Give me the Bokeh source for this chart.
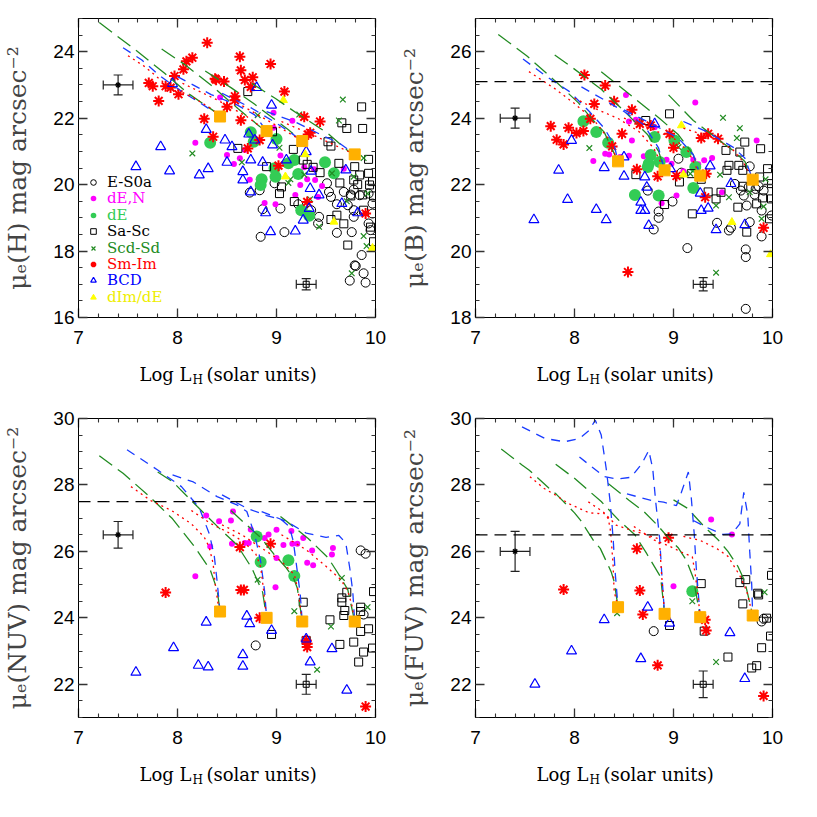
from bokeh.plotting import figure
from bokeh.layouts import gridplot
from bokeh.models import (Range1d, LinearAxis, SingleIntervalTicker, ColumnDataSource,
                          Whisker, Span, Label, Legend, LegendItem, CustomJSTickFormatter, TeeHead)
from bokeh.embed import file_html
from bokeh.resources import INLINE

# ---------------- data ----------------
# ---- panel H ----
H_ES0a = [(8.73,19.76),(8.83,19.83),(8.86,19.26),(8.84,18.43),(9.04,19.28),(8.98,20.04),(9.08,18.57),(9.22,19.41),(9.35,19.23),(9.43,19.03),(9.42,18.83),(9.51,20.04),(9.53,19.78),(9.55,19.63),(9.61,19.41),(9.61,18.55),(9.68,19.78),(9.72,19.38),(9.75,19.70),(9.76,18.57),(9.78,19.23),(9.78,19.03),(9.80,17.55),(9.79,17.57),(9.74,17.11),(9.86,17.88),(9.88,17.33),(9.90,17.05),(9.93,18.83),(9.95,18.63),(9.97,19.43),(9.93,19.73),(9.97,19.13),(9.84,19.68),(9.78,19.85)]
H_dEN = [(8.18,21.26),(8.43,22.62),(8.50,20.89),(8.57,20.62),(8.63,20.79),(8.68,21.04),(8.73,20.15),(8.88,19.45),(8.97,22.16),(8.97,21.71),(8.99,19.41),(9.04,20.88),(9.08,20.64),(9.16,21.92),(9.19,19.69),(9.24,19.99),(9.28,20.52),(9.31,20.16),(9.39,20.14),(9.38,20.46),(9.42,19.63),(9.46,19.96),(9.68,20.48)]
H_dE = [(8.33,21.26),(8.74,21.58),(8.77,21.29),(9.00,21.37),(8.85,20.16),(8.84,19.99),(8.98,20.49),(8.99,20.24),(9.12,20.64),(9.18,20.74),(9.22,20.32),(9.49,20.67),(9.58,20.34),(9.25,19.23),(9.33,19.06)]
H_SaSc = [(8.71,22.80),(8.61,21.09),(8.90,20.54),(8.96,21.59),(9.05,19.93),(9.03,19.73),(9.17,21.06),(9.18,19.49),(9.27,20.74),(9.31,20.61),(9.44,20.36),(9.52,21.29),(9.55,21.16),(9.61,19.08),(9.63,20.64),(9.64,20.05),(9.66,21.86),(9.71,21.69),(9.72,18.18),(9.68,18.82),(9.79,20.54),(9.82,20.00),(9.84,20.29),(9.86,22.34),(9.87,21.69),(9.87,19.69),(9.88,19.23),(9.93,20.76),(9.93,20.34),(9.94,19.99),(9.97,20.09),(9.98,19.66),(9.95,18.72),(9.98,18.28),(9.75,19.66),(9.78,20.14),(9.55,18.95),(9.37,20.52)]
H_ScdSd = [(8.15,20.94),(8.65,20.67),(8.81,22.09),(9.03,21.11),(9.14,20.16),(9.12,20.05),(9.23,22.11),(9.28,20.30),(9.34,19.56),(9.43,18.73),(9.56,20.34),(9.63,21.93),(9.67,22.56),(9.78,20.24),(9.88,20.80),(9.92,19.73),(9.88,18.45),(9.91,18.15),(9.76,17.33),(9.71,19.50)]
H_SmIm = [(8.30,24.27),(7.71,23.06),(7.75,22.96),(7.81,22.52),(7.88,22.96),(7.93,22.92),(7.97,23.27),(8.01,22.72),(8.06,23.47),(8.09,23.71),(8.15,23.82),(8.38,23.19),(8.39,23.16),(8.47,23.10),(8.50,22.34),(8.58,22.66),(8.58,22.54),(8.63,23.85),(8.64,23.44),(8.68,23.15),(8.74,22.94),(8.76,23.23),(8.64,21.94),(8.71,21.09),(8.27,21.98),(8.36,21.44),(8.83,21.34),(8.94,23.63),(9.08,22.80),(9.28,22.04),(9.32,21.51),(9.34,21.56),(9.44,21.90),(9.02,20.57),(9.31,19.48),(9.90,19.13)]
H_BCD = [(7.58,20.54),(7.83,21.14),(7.92,20.41),(7.95,23.04),(8.22,20.29),(8.29,21.66),(8.31,20.48),(8.48,21.34),(8.50,20.67),(8.55,21.14),(8.66,20.39),(8.66,20.14),(8.72,21.52),(8.74,20.74),(8.74,19.78),(8.78,21.34),(8.80,22.92),(8.86,20.67),(8.89,19.15),(8.94,18.58),(8.95,22.39),(8.96,21.19),(9.10,20.74),(9.19,18.60),(9.27,18.93),(9.30,20.99),(9.33,19.28),(9.35,20.40),(9.34,19.88),(9.43,19.69),(9.66,19.43),(9.70,20.44),(9.82,19.15)]
H_dIm = [(9.07,22.54),(9.09,20.24),(9.29,20.91),(9.58,18.88),(9.97,18.09)]
H_end = [(8.43,22.05),(8.90,21.61),(9.26,21.31),(9.79,20.91)]
H_green = [
    [(7.21,24.88),(7.59,24.02),(7.87,23.35),(8.11,22.74),(8.38,22.19),(8.43,22.05)],
    [(7.84,24.08),(8.07,23.62),(8.34,22.99),(8.61,22.29),(8.83,21.75),(8.90,21.61)],
    [(8.28,23.42),(8.54,22.92),(8.77,22.44),(8.97,21.99),(9.12,21.65),(9.26,21.31)],
    [(8.75,23.05),(8.99,22.59),(9.21,22.14),(9.52,21.54),(9.72,21.02),(9.79,20.91)],
]
H_blue = [
    [(7.45,24.12),(7.64,23.75),(7.81,23.30),(8.04,22.81),(8.29,22.34),(8.43,22.05)],
    [(8.00,23.25),(8.34,22.71),(8.60,22.40),(8.78,22.10),(8.90,21.61)],
    [(8.45,22.75),(8.75,22.30),(9.00,21.85),(9.15,21.55),(9.26,21.31)],
    [(8.90,22.20),(9.20,21.87),(9.47,21.47),(9.64,21.24),(9.79,20.91)],
]
H_red = [
    [(7.50,23.88),(7.67,23.55),(7.85,23.10),(8.00,22.85),(8.17,22.60),(8.34,22.29),(8.43,22.05)],
    [(8.05,23.05),(8.40,22.55),(8.70,22.05),(8.90,21.61)],
    [(8.55,22.55),(8.90,21.95),(9.10,21.60),(9.26,21.31)],
    [(9.05,21.90),(9.40,21.45),(9.65,21.10),(9.79,20.91)],
]
H_err = [(7.4,23.0,0.15,0.3),(9.3,17.0,0.1,0.17)]

# ---- panel B ----
B_ES0a = [(9.05,22.78),(9.08,22.36),(8.74,21.82),(8.85,21.19),(8.85,21.00),(8.80,20.65),(8.99,21.49),(9.14,20.09),(9.44,20.85),(9.56,20.62),(9.58,20.70),(9.62,22.02),(9.68,21.82),(9.71,21.67),(9.74,21.37),(9.77,22.55),(9.76,21.93),(9.86,21.95),(9.82,21.70),(9.83,21.87),(9.89,21.22),(9.91,21.82),(9.89,20.44),(9.73,20.05),(9.73,19.82),(9.99,21.07),(9.73,18.26),(9.77,20.87)]
B_dEN = [(9.22,24.47),(8.52,24.70),(8.55,23.90),(8.58,23.33),(8.31,22.93),(8.35,22.91),(8.19,22.71),(8.46,22.83),(8.55,22.87),(8.70,22.85),(8.81,23.73),(8.88,21.44),(8.93,22.75),(8.98,22.63),(9.03,21.67),(9.20,22.75),(9.25,22.61),(9.31,22.73),(9.39,22.80),(9.49,21.77),(9.84,23.33),(8.62,23.95),(9.10,22.40)]
B_dE = [(8.09,23.91),(8.22,23.58),(8.34,23.26),(8.77,22.89),(8.75,22.63),(8.74,22.53),(8.81,23.43),(8.86,22.68),(8.61,21.69),(8.85,21.67),(9.01,23.33),(9.13,22.98),(9.20,21.90),(9.22,22.53)]
B_SaSc = [(8.96,24.13),(8.72,23.93),(8.62,22.30),(9.18,22.33),(9.06,22.08),(8.91,21.40),(9.19,21.12),(9.28,22.16),(9.35,21.78),(9.43,21.57),(9.48,21.77),(9.54,22.43),(9.53,23.03),(9.67,22.98),(9.72,23.28),(9.88,23.08),(9.56,22.58),(9.66,22.58),(9.70,22.43),(9.65,21.32),(9.74,20.57),(9.84,21.42),(9.95,22.48),(9.99,22.03),(9.99,21.57),(9.97,20.97),(9.87,22.23),(9.90,21.60),(9.70,21.95)]
B_ScdSd = [(8.15,23.10),(9.50,24.01),(9.67,23.70),(9.64,23.40),(9.47,22.30),(9.56,21.62),(9.43,21.37),(9.43,19.35),(9.89,20.97),(9.91,21.34),(9.93,22.16),(9.77,21.77),(9.05,23.13),(9.17,22.33)]
B_SmIm = [(8.10,25.30),(8.31,24.98),(8.20,24.43),(8.40,24.51),(8.58,24.25),(7.76,23.76),(7.94,23.71),(8.02,23.55),(8.09,23.61),(7.82,23.35),(7.89,23.21),(8.16,23.98),(8.38,23.15),(8.48,23.53),(8.63,22.46),(8.84,22.25),(8.96,23.53),(9.00,23.11),(9.03,22.26),(9.28,23.40),(9.35,23.53),(9.45,23.38),(9.33,22.33),(9.32,21.62),(8.54,19.37),(9.91,20.70),(8.66,23.83),(8.77,23.78)]
B_BCD = [(7.97,23.33),(7.84,22.43),(7.93,21.55),(7.59,20.94),(8.22,21.25),(8.32,20.94),(8.30,22.51),(8.50,22.25),(8.71,22.23),(8.73,21.92),(8.67,21.47),(8.67,21.22),(8.71,21.22),(8.75,20.77),(8.81,23.83),(8.97,22.48),(9.27,21.74),(9.28,21.22),(9.35,21.29),(9.37,22.56),(9.58,22.03),(9.43,20.64),(9.72,20.79),(8.50,22.83)]
B_dIm = [(9.08,23.78),(9.10,22.30),(9.59,20.87),(9.98,19.90)]
B_end = [(8.44,22.70),(8.91,22.43),(9.27,22.27),(9.80,22.15)]
B_green = [
    [(7.23,26.52),(7.52,25.87),(7.79,25.16),(8.04,24.46),(8.16,24.03),(8.30,23.58),(8.41,22.88),(8.44,22.70)],
    [(7.80,25.90),(7.98,25.52),(8.27,24.87),(8.52,24.16),(8.74,23.50),(8.85,23.00),(8.91,22.43)],
    [(8.27,25.40),(8.61,24.59),(8.86,23.99),(9.05,23.50),(9.20,22.90),(9.27,22.27)],
    [(8.95,24.70),(9.20,23.93),(9.42,23.43),(9.60,23.03),(9.72,22.70),(9.80,22.15)],
]
B_blue = [
    [(7.48,25.78),(7.72,25.25),(7.95,24.80),(8.15,24.20),(8.30,23.70),(8.40,23.20),(8.44,22.70)],
    [(8.07,24.94),(8.30,24.55),(8.50,24.20),(8.70,23.80),(8.85,23.10),(8.91,22.43)],
    [(8.50,24.25),(8.80,23.80),(9.05,23.40),(9.20,22.90),(9.27,22.27)],
    [(9.10,23.90),(9.33,23.60),(9.60,23.13),(9.72,22.80),(9.80,22.15)],
]
B_red = [
    [(7.54,25.40),(7.80,24.89),(8.00,24.44),(8.20,23.93),(8.33,23.43),(8.44,22.70)],
    [(8.00,24.60),(8.20,24.30),(8.44,23.99),(8.65,23.60),(8.80,23.10),(8.91,22.43)],
    [(8.50,24.00),(8.75,23.70),(9.00,23.40),(9.15,23.00),(9.27,22.27)],
    [(9.10,23.70),(9.40,23.40),(9.60,23.05),(9.70,22.70),(9.80,22.15)],
]
B_err = [(7.4,24.0,0.15,0.3),(9.3,19.0,0.1,0.2)]
B_limit = 25.1

# ---- panel NUV ----
N_ES0a = [(9.85,26.03),(9.90,25.93),(8.79,23.17),(9.88,24.10)]
N_dEN = [(8.18,25.25),(8.29,27.08),(8.33,26.15),(8.42,26.91),(8.54,26.93),(8.56,27.20),(8.55,26.23),(8.68,26.25),(8.72,26.25),(8.74,26.66),(8.88,26.40),(8.92,26.51),(9.00,26.65),(8.99,24.92),(9.07,26.19),(9.15,26.61),(9.16,26.23),(9.21,26.23),(9.27,26.40),(9.31,25.66),(9.36,26.03),(9.37,25.58),(9.56,25.91),(9.57,26.10),(9.00,25.80)]
N_dE = [(8.80,26.45),(8.84,25.68),(9.12,25.73),(9.18,25.26)]
N_SaSc = [(9.71,24.77),(9.66,24.60),(9.66,24.47),(9.69,24.22),(9.68,24.07),(9.85,24.32),(9.85,24.19),(9.98,24.79),(9.93,23.67),(9.85,23.59),(9.78,23.27),(9.64,23.20),(9.88,22.97),(9.83,22.67),(9.97,23.09),(9.54,23.94),(9.27,24.47),(8.95,23.50),(9.30,23.32)]
N_ScdSd = [(8.81,25.15),(9.18,24.20),(9.55,23.74),(9.41,22.44),(9.66,25.20),(9.92,24.32)]
N_SmIm = [(7.88,24.76),(8.64,24.84),(8.67,24.84),(8.63,26.13),(8.94,26.23),(8.83,24.00),(9.31,23.22),(9.31,23.12),(9.30,23.32),(9.90,21.33)]
N_BCD = [(7.58,22.36),(7.96,23.10),(8.21,22.57),(8.31,22.52),(8.29,23.87),(8.66,22.89),(8.66,22.54),(8.70,24.05),(8.73,23.82),(8.95,23.62),(9.30,23.36),(9.34,22.67),(9.56,23.07),(9.71,21.82)]
N_dIm = []
N_end = [(8.43,24.19),(8.90,24.00),(9.26,23.89),(9.79,23.89)]
N_green = [
    [(7.21,28.88),(7.45,28.35),(7.70,27.70),(7.95,26.98),(8.17,26.15),(8.33,25.45),(8.40,24.85),(8.43,24.19)],
    [(7.80,28.39),(7.95,28.10),(8.20,27.35),(8.41,26.73),(8.60,26.20),(8.75,25.50),(8.86,24.77),(8.90,24.00)],
    [(8.54,27.23),(8.67,26.87),(8.84,26.42),(8.97,25.93),(9.10,25.50),(9.17,25.21),(9.21,24.90),(9.26,23.89)],
    [(9.04,27.05),(9.22,26.63),(9.32,26.39),(9.52,25.81),(9.62,25.35),(9.72,24.85),(9.79,23.89)],
]
N_blue = [
    [(7.49,29.06),(7.80,28.45),(8.04,27.95),(8.22,27.31),(8.32,26.54),(8.37,25.90),(8.40,25.10),(8.43,24.19)],
    [(7.95,28.30),(8.16,28.09),(8.40,27.65),(8.60,27.40),(8.70,27.20),(8.78,26.50),(8.84,25.70),(8.88,24.80),(8.90,24.00)],
    [(8.45,27.70),(8.70,27.30),(8.90,27.08),(9.05,26.95),(9.13,26.75),(9.17,26.30),(9.21,25.40),(9.24,24.70),(9.26,23.89)],
    [(8.85,27.20),(9.10,26.90),(9.30,26.55),(9.50,26.42),(9.63,26.48),(9.70,26.25),(9.74,25.50),(9.77,24.80),(9.79,23.89)],
]
N_red = [
    [(7.53,27.95),(7.73,27.53),(7.94,27.23),(8.14,26.83),(8.27,26.43),(8.32,26.13),(8.36,25.63),(8.38,25.03),(8.41,24.42),(8.43,24.19)],
    [(8.14,27.23),(8.34,26.83),(8.54,26.53),(8.67,26.28),(8.79,25.93),(8.84,25.53),(8.87,24.82),(8.90,24.00)],
    [(8.45,26.80),(8.65,26.50),(8.85,26.10),(9.05,25.70),(9.18,25.30),(9.22,24.80),(9.26,23.89)],
    [(9.05,26.50),(9.30,26.05),(9.50,25.55),(9.65,25.15),(9.72,24.80),(9.76,24.40),(9.79,23.89)],
]
N_err = [(7.4,26.5,0.15,0.4),(9.3,22.0,0.1,0.3)]
N_limit = 27.5

# ---- panel FUV ----
F_ES0a = [(8.80,23.60),(9.89,23.89),(9.91,23.97)]
F_dEN = [(9.38,26.96),(9.59,26.51),(9.00,24.95)]
F_dE = [(9.19,24.80)]
F_SaSc = [(9.28,25.03),(9.67,25.06),(9.73,25.15),(9.70,24.42),(9.86,24.69),(9.85,24.74),(9.99,25.28),(9.94,23.99),(9.98,23.45),(9.89,23.10),(9.84,22.56),(9.79,22.49),(9.55,22.82),(9.31,23.60),(8.96,23.77)]
F_ScdSd = [(8.43,24.14),(9.19,24.50),(9.43,22.67),(9.92,24.77)]
F_SmIm = [(7.89,24.85),(8.63,26.08),(8.66,24.82),(8.69,24.10),(8.84,22.57),(8.95,26.41),(9.32,23.94),(9.33,23.62),(9.91,21.65)]
F_BCD = [(7.60,22.00),(7.97,23.00),(8.30,23.94),(8.74,24.32),(8.96,23.84),(8.67,22.77),(9.57,23.55),(9.72,22.17)]
F_dIm = []
F_end = [(8.44,24.32),(8.91,24.12),(9.27,24.02),(9.80,24.07)]
F_green = [
    [(7.26,29.08),(7.47,28.60),(7.54,28.45),(7.74,27.91),(7.82,27.71),(8.00,27.16),(8.06,26.94),(8.20,26.29),(8.26,26.09),(8.37,25.39),(8.40,25.10),(8.44,24.32)],
    [(7.81,28.62),(8.00,28.20),(8.27,27.50),(8.46,26.90),(8.61,26.50),(8.73,25.93),(8.87,25.23),(8.91,24.12)],
    [(8.34,28.04),(8.55,27.54),(8.70,27.20),(8.85,26.75),(8.95,26.40),(9.05,26.10),(9.13,25.73),(9.20,25.20),(9.27,24.02)],
    [(9.00,27.55),(9.14,27.30),(9.30,26.78),(9.45,26.35),(9.55,26.00),(9.65,25.55),(9.72,25.10),(9.80,24.07)],
]
F_blue = [
    [(7.47,29.75),(7.70,29.40),(7.90,29.30),(8.05,29.40),(8.15,29.65),(8.21,29.95),(8.27,29.50),(8.32,28.50),(8.36,27.50),(8.39,26.40),(8.41,25.40),(8.44,24.32)],
    [(8.05,28.84),(8.30,28.25),(8.43,28.18),(8.57,28.23),(8.68,28.64),(8.75,29.04),(8.79,28.50),(8.82,27.50),(8.86,26.40),(8.88,25.40),(8.91,24.12)],
    [(8.53,27.73),(8.78,27.53),(8.90,27.48),(9.03,27.38),(9.08,27.78),(9.15,28.39),(9.18,27.60),(9.21,26.50),(9.23,25.50),(9.27,24.02)],
    [(9.20,26.93),(9.33,26.73),(9.50,26.51),(9.59,26.53),(9.67,26.83),(9.71,27.78),(9.75,27.10),(9.77,26.00),(9.79,25.00),(9.80,24.07)],
]
F_red = [
    [(7.55,28.25),(7.69,27.90),(7.80,27.71),(7.94,27.44),(8.05,27.29),(8.15,27.16),(8.24,27.14),(8.29,27.17),(8.34,26.99),(8.36,26.69),(8.37,26.39),(8.39,25.59),(8.40,24.80),(8.44,24.32)],
    [(8.14,27.49),(8.29,27.19),(8.42,26.79),(8.57,26.64),(8.73,26.50),(8.84,26.39),(8.86,26.20),(8.88,25.30),(8.91,24.12)],
    [(8.60,26.75),(8.80,26.35),(8.95,26.17),(9.10,25.95),(9.19,25.84),(9.22,25.30),(9.25,24.60),(9.27,24.02)],
    [(9.10,26.45),(9.27,26.33),(9.44,26.08),(9.55,25.85),(9.67,25.27),(9.74,24.80),(9.80,24.07)],
]
F_err = [(7.4,26.0,0.15,0.6),(9.3,22.0,0.1,0.4)]
F_limit = 26.5

CATEGORIES = ["E-S0a", "dE,N", "dE", "Sa-Sc", "Scd-Sd", "Sm-Im", "BCD", "dIm/dE"]
XLABEL = ("Log L", "H", "(solar units)")

# ---------------- styling ----------------
GREEN_LT = "#33cc55"
GREEN_DK = "#228b22"
MAGENTA = "#ff00ff"
RED = "#ff0000"
BLUE = "#0000ff"
YELLOW = "#ffff00"
ORANGE = "#ffb000"

STYLES = [
    dict(marker="circle", size=9, fill_color=None, line_color="black", line_width=1),
    dict(marker="circle", size=6, fill_color=MAGENTA, line_color=None),
    dict(marker="circle", size=12, fill_color=GREEN_LT, line_color=None),
    dict(marker="square", size=8, fill_color=None, line_color="black", line_width=1),
    dict(marker="x", size=8, line_color=GREEN_DK, line_width=1.2),
    dict(marker="asterisk", size=11, line_color=RED, line_width=2),
    dict(marker="triangle", size=10, fill_color=None, line_color=BLUE, line_width=1.2),
    dict(marker="triangle", size=8, fill_color=YELLOW, line_color=YELLOW),
]
TEXT_COLORS = ["black", MAGENTA, GREEN_LT, "black", GREEN_DK, RED, BLUE, "#eeee00"]

W = 397
B_LEFT, B_RIGHT, B_BOTTOM = 77, 22, 40
FRAME_H = 299
H_LAB = 51
SERIF = "DejaVu Serif"
SANS = "Liberation Sans"


def unzip(pts):
    return [q[0] for q in pts], [q[1] for q in pts]


def style_axis(ax, interval, nminor, show_labels, standoff=0):
    ax.ticker = SingleIntervalTicker(interval=interval, num_minor_ticks=nminor)
    ax.major_tick_in = 9
    ax.major_tick_out = 0
    ax.minor_tick_in = 4
    ax.minor_tick_out = 0
    ax.axis_line_color = "black"
    ax.major_tick_line_color = "#333333"
    ax.minor_tick_line_color = "#333333"
    ax.major_tick_line_width = 1.3
    ax.minor_tick_line_width = 1.1
    if show_labels:
        ax.major_label_text_font = SANS
        ax.major_label_text_font_size = "19px"
        ax.major_label_text_color = "black"
        ax.major_label_standoff = standoff
    else:
        ax.formatter = CustomJSTickFormatter(code="return ''")
        ax.major_label_standoff = 0


def make_xlabel_fig():
    f = figure(width=W, height=H_LAB, x_range=Range1d(0, 1), y_range=Range1d(0, 1),
               x_axis_type=None, y_axis_type=None, output_backend="svg", toolbar_location=None,
               min_border=0, min_border_left=0, min_border_right=0, min_border_top=0, min_border_bottom=0)
    f.outline_line_color = None
    f.grid.visible = False
    # screen positions are relative to the (column-aligned) frame
    parts = [(XLABEL[0], 113, 34, "18px", "right"), (XLABEL[1], 114, 29, "12px", "left"),
             (XLABEL[2], 128, 34, "18px", "left")]
    for text, sx, sy, fs, align in parts:
        f.add_layout(Label(x=sx, y=sy, x_units="screen", y_units="screen", text=text,
                           text_font=SERIF, text_font_size=fs, text_align=align,
                           text_baseline="alphabetic", text_color="black"))
    return f


def make_panel(band, yr, cats, ends, greens, blues, reds, errs, limit, legend, top_border):
    p = figure(width=W, height=top_border + FRAME_H + B_BOTTOM, x_range=Range1d(7, 10), y_range=Range1d(*yr),
               output_backend="svg", toolbar_location=None,
               min_border_left=B_LEFT, min_border_right=B_RIGHT, min_border_top=top_border,
               min_border_bottom=B_BOTTOM)
    p.grid.visible = False
    p.outline_line_color = "black"
    p.outline_line_width = 1
    p.background_fill_color = "white"

    style_axis(p.below[0], 1, 5, True, 13)
    style_axis(p.left[0], 2, 4, True, 4)
    top = LinearAxis()
    right = LinearAxis()
    style_axis(top, 1, 5, False)
    style_axis(right, 2, 4, False)
    p.add_layout(top, "above")
    p.add_layout(right, "right")

    yax = p.left[0]
    yax.axis_label = "\u03bc\u2091(" + band + ") mag arcsec\u207b\u00b2"
    yax.axis_label_text_font = SERIF
    yax.axis_label_text_font_style = "normal"
    yax.axis_label_text_font_size = "25px"
    yax.axis_label_standoff = 18

    if limit is not None:
        p.add_layout(Span(location=limit, dimension="width", line_color="black",
                          line_width=1.2, line_dash="12 7"))

    renderers = []
    for pts, st in zip(cats, STYLES):
        xs, ys = unzip(pts)
        r = p.scatter(xs, ys, **st)
        renderers.append(r)

    for tracks, color, dash in ((greens, GREEN_DK, "16 7"), (blues, "#1a3cff", "9 7"), (reds, RED, "2 4")):
        xs = [unzip(t)[0] for t in tracks]
        ys = [unzip(t)[1] for t in tracks]
        p.multi_line(xs, ys, line_color=color, line_width=1.3, line_dash=dash)

    ex, ey = unzip(ends)
    p.scatter(ex, ey, marker="square", size=11, fill_color=ORANGE, line_color=ORANGE)

    cx = [e[0] for e in errs]
    cy = [e[1] for e in errs]
    dx = [e[2] for e in errs]
    dy = [e[3] for e in errs]
    src = ColumnDataSource(dict(x=cx, y=cy,
                                xl=[a - b for a, b in zip(cx, dx)], xu=[a + b for a, b in zip(cx, dx)],
                                yl=[a - b for a, b in zip(cy, dy)], yu=[a + b for a, b in zip(cy, dy)]))
    for dim, base, lo, hi in (("width", "y", "xl", "xu"), ("height", "x", "yl", "yu")):
        p.add_layout(Whisker(source=src, base=base, lower=lo, upper=hi, dimension=dim,
                             line_color="#222222", line_width=1.2,
                             upper_head=TeeHead(size=9, line_color="#222222", line_width=1.2),
                             lower_head=TeeHead(size=9, line_color="#222222", line_width=1.2)))
    p.scatter(cx[:1], cy[:1], marker="asterisk", size=6, line_color="black", line_width=1.2)
    p.scatter(cx[1:], cy[1:], marker="square", size=6, fill_color=None, line_color="black", line_width=1)

    if legend:
        for i, (name, r) in enumerate(zip(CATEGORIES, renderers)):
            yc = 133 - 16.4 * i
            leg = Legend(items=[LegendItem(label=name, renderers=[r])],
                         location=(8, yc - 7), orientation="vertical",
                         padding=0, margin=0, spacing=0,
                         glyph_width=14, glyph_height=14, label_height=14,
                         label_standoff=7, label_text_font=SERIF, label_text_font_size="15px",
                         label_text_color=TEXT_COLORS[i], background_fill_alpha=0,
                         border_line_alpha=0)
            p.add_layout(leg)
    return p


p1 = make_panel("H", (16, 25), [H_ES0a, H_dEN, H_dE, H_SaSc, H_ScdSd, H_SmIm, H_BCD, H_dIm],
                H_end, H_green, H_blue, H_red, H_err, None, True, 18)
p2 = make_panel("B", (18, 27), [B_ES0a, B_dEN, B_dE, B_SaSc, B_ScdSd, B_SmIm, B_BCD, B_dIm],
                B_end, B_green, B_blue, B_red, B_err, B_limit, False, 18)
p3 = make_panel("NUV", (21, 30), [N_ES0a, N_dEN, N_dE, N_SaSc, N_ScdSd, N_SmIm, N_BCD, N_dIm],
                N_end, N_green, N_blue, N_red, N_err, N_limit, False, 10)
p4 = make_panel("FUV", (21, 30), [F_ES0a, F_dEN, F_dE, F_SaSc, F_ScdSd, F_SmIm, F_BCD, F_dIm],
                F_end, F_green, F_blue, F_red, F_err, F_limit, False, 10)

grid = gridplot([[p1, p2], [make_xlabel_fig(), make_xlabel_fig()],
                 [p3, p4], [make_xlabel_fig(), make_xlabel_fig()]], toolbar_location=None)
open("out.html", "w").write(file_html(grid, INLINE))
